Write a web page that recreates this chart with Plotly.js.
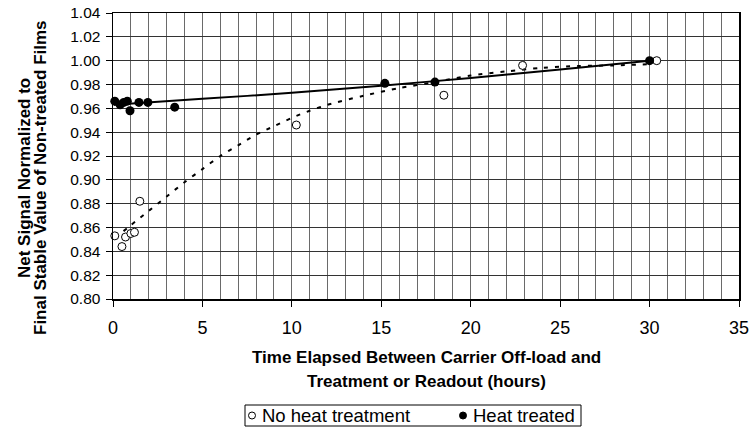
<!DOCTYPE html>
<html>
<head>
<meta charset="utf-8">
<script src="https://cdn.plot.ly/plotly-3.0.1.min.js"></script>
<style>
  html, body { margin: 0; padding: 0; background: #ffffff; }
  #chart { width: 752px; height: 429px; }
</style>
</head>
<body>
<div id="chart"></div>
<script>
// Net film signal after carrier off-load, normalized to the final stable value
// of non-treated films, with and without heat treatment, plus fitted trends.

const seriesNames = ['No heat treatment', 'Heat treated'];

// Measured points: films read without heat treatment
const noHeatHours  = [0.1, 0.5, 0.7, 1.0, 1.2, 1.5, 10.25, 18.5, 22.9, 30.4];
const noHeatSignal = [0.853, 0.844, 0.852, 0.855, 0.856, 0.882, 0.946, 0.971, 0.996, 1.000];

// Measured points: heat-treated films
const heatHours  = [0.1, 0.4, 0.6, 0.8, 0.95, 1.45, 1.95, 3.45, 15.2, 18.0, 30.0];
const heatSignal = [0.966, 0.963, 0.965, 0.966, 0.958, 0.965, 0.965, 0.961, 0.981, 0.982, 1.000];

// Trend curve for the non-treated films (dashed)
const noHeatFitHours  = [0.1, 1, 2, 3, 4, 5, 6, 7, 8, 9, 10, 11, 12, 14, 16, 18, 20, 22, 24, 26, 28, 30];
const noHeatFitSignal = [0.851, 0.862, 0.874, 0.886, 0.898, 0.909, 0.920, 0.929, 0.938, 0.945, 0.952,
                         0.958, 0.963, 0.9705, 0.977, 0.982, 0.9875, 0.991, 0.994, 0.9955, 0.996, 0.997];

// Trend line for the heat-treated films (solid)
const heatFitHours  = [0.05, 5, 10, 15, 20, 25, 30];
const heatFitSignal = [0.963, 0.968, 0.973, 0.979, 0.9855, 0.9925, 1.000];

// Axis ticks and titles
const xTickVals = [0, 5, 10, 15, 20, 25, 30, 35];
const yTickVals = [0.80, 0.82, 0.84, 0.86, 0.88, 0.90, 0.92, 0.94, 0.96, 0.98, 1.00, 1.02, 1.04];
const xTitleLines = ['Time Elapsed Between Carrier Off-load and', 'Treatment or Readout (hours)'];
const yTitleLines = ['Net Signal Normalized to', 'Final Stable Value of Non-treated Films'];

const FONT = 'Liberation Sans, Arial, Helvetica, sans-serif';

// Plot-area geometry in pixels, used to place the boxed key below the chart
const M = { l: 113, r: 13, t: 13, b: 130 };
const W = 752, H = 429;
const plotW = W - M.l - M.r, plotH = H - M.t - M.b;
const px2x = p => (p - M.l) / plotW;
const px2y = p => (H - M.b - p) / plotH;

const traces = [
  {
    x: noHeatFitHours, y: noHeatFitSignal,
    type: 'scatter', mode: 'lines', showlegend: false, hoverinfo: 'skip',
    line: { color: '#000000', width: 2, dash: '4px,7px', shape: 'spline', smoothing: 0.8 }
  },
  {
    x: heatFitHours, y: heatFitSignal,
    type: 'scatter', mode: 'lines', showlegend: false, hoverinfo: 'skip',
    line: { color: '#000000', width: 2, shape: 'spline', smoothing: 0.8 }
  },
  {
    name: seriesNames[0], showlegend: false,
    x: noHeatHours, y: noHeatSignal,
    type: 'scatter', mode: 'markers', cliponaxis: false,
    marker: { symbol: 'circle', size: 8, color: '#ffffff', line: { color: '#000000', width: 1 } }
  },
  {
    name: seriesNames[1], showlegend: false,
    x: heatHours, y: heatSignal,
    type: 'scatter', mode: 'markers', cliponaxis: false,
    marker: { symbol: 'circle', size: 9, color: '#000000', line: { color: '#000000', width: 0 } }
  }
];

const titleFont = { family: FONT, size: 17, color: '#000000', weight: 'bold' };
const keyFont = { family: FONT, size: 18.5, color: '#000000' };

// Key: framed box with an open and a filled circle symbol
const keyTop = 405, keyBottom = 426, keyMid = 415.5;
const keyShapes = [
  { type: 'rect', xref: 'paper', yref: 'paper',
    x0: px2x(245), x1: px2x(581), y0: px2y(keyTop), y1: px2y(keyBottom),
    line: { color: '#000000', width: 1 }, fillcolor: '#ffffff', layer: 'above' },
  { type: 'circle', xref: 'paper', yref: 'paper', xsizemode: 'pixel', ysizemode: 'pixel',
    xanchor: px2x(252), yanchor: px2y(keyMid), x0: -3.5, x1: 3.5, y0: -3.5, y1: 3.5,
    line: { color: '#000000', width: 1 }, fillcolor: '#ffffff', layer: 'above' },
  { type: 'circle', xref: 'paper', yref: 'paper', xsizemode: 'pixel', ysizemode: 'pixel',
    xanchor: px2x(463), yanchor: px2y(keyMid), x0: -3.5, x1: 3.5, y0: -3.5, y1: 3.5,
    line: { color: '#000000', width: 1 }, fillcolor: '#000000', layer: 'above' }
];

const layout = {
  width: W,
  height: H,
  margin: { l: M.l, r: M.r, t: M.t, b: M.b, pad: 0 },
  paper_bgcolor: '#ffffff',
  plot_bgcolor: '#ffffff',
  font: { family: FONT, color: '#000000' },
  showlegend: false,
  xaxis: {
    range: [0, 35],
    tickmode: 'array',
    tickvals: xTickVals,
    ticktext: xTickVals.map(String),
    ticks: 'outside',
    ticklen: 6,
    tickcolor: '#000000',
    tickfont: { family: FONT, size: 18, color: '#000000' },
    ticklabelstandoff: 6,
    showgrid: true,
    gridcolor: '#6a6a6a',
    gridwidth: 1,
    minor: { dtick: 1, tick0: 0, showgrid: true, gridcolor: '#6a6a6a', gridwidth: 1, ticks: '' },
    showline: true,
    linecolor: '#000000',
    linewidth: 1.5,
    mirror: true,
    zeroline: false
  },
  yaxis: {
    range: [0.80, 1.04],
    tickmode: 'array',
    tickvals: yTickVals,
    ticktext: yTickVals.map(v => v.toFixed(2)),
    ticks: 'outside',
    ticklen: 6,
    tickcolor: '#000000',
    tickfont: { family: FONT, size: 15.5, color: '#000000' },
    ticklabelstandoff: 2,
    showgrid: true,
    gridcolor: '#333333',
    gridwidth: 1,
    showline: true,
    linecolor: '#000000',
    linewidth: 1.5,
    mirror: true,
    zeroline: false
  },
  shapes: keyShapes,
  annotations: [
    { text: yTitleLines[0], xref: 'paper', yref: 'paper', x: px2x(25), y: px2y(178),
      xanchor: 'center', yanchor: 'middle', textangle: -90, showarrow: false, font: titleFont },
    { text: yTitleLines[1], xref: 'paper', yref: 'paper', x: px2x(41), y: px2y(178),
      xanchor: 'center', yanchor: 'middle', textangle: -90, showarrow: false, font: titleFont },
    { text: xTitleLines[0], xref: 'paper', yref: 'paper', x: 0.5, y: px2y(357),
      xanchor: 'center', yanchor: 'middle', showarrow: false, font: titleFont },
    { text: xTitleLines[1], xref: 'paper', yref: 'paper', x: 0.5, y: px2y(381),
      xanchor: 'center', yanchor: 'middle', showarrow: false, font: titleFont },
    { text: seriesNames[0], xref: 'paper', yref: 'paper', x: px2x(260), y: px2y(keyMid),
      xanchor: 'left', yanchor: 'middle', showarrow: false, font: keyFont },
    { text: seriesNames[1], xref: 'paper', yref: 'paper', x: px2x(471), y: px2y(keyMid),
      xanchor: 'left', yanchor: 'middle', showarrow: false, font: keyFont }
  ]
};

Plotly.newPlot('chart', traces, layout, { staticPlot: true, displayModeBar: false });
</script>
</body>
</html>
